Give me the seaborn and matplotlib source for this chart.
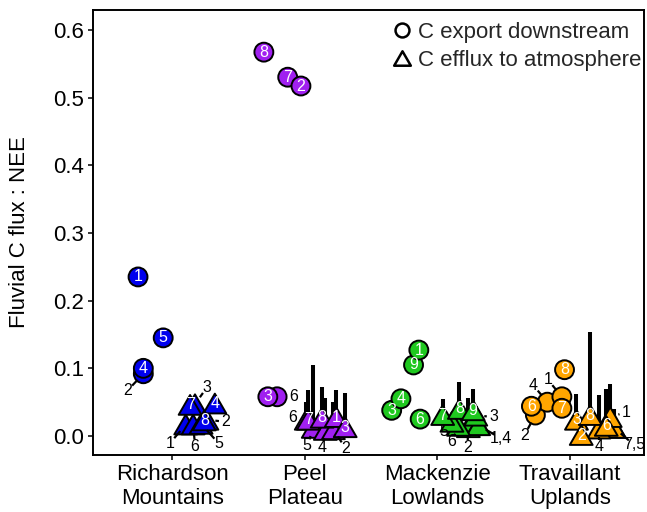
import numpy as np
import pandas as pd
import matplotlib
matplotlib.use("Agg")
import matplotlib.pyplot as plt
import seaborn as sns
from matplotlib.path import Path
from matplotlib.markers import MarkerStyle
from matplotlib.lines import Line2D

# ---------------- data ----------------
regions = ["Richardson\nMountains", "Peel\nPlateau", "Mackenzie\nLowlands", "Travaillant\nUplands"]
region_colors = ["#0000EE", "#A020F0", "#1FC81F", "#FFA500"]

# C export downstream (circles)
exp_region = [0, 0, 0, 0,
              1, 1, 1, 1, 1,
              2, 2, 2, 2, 2,
              3, 3, 3, 3, 3, 3]
exp_site = ["2", "4", "5", "1",
            "8", "7", "2", "6", "3",
            "3", "4", "6", "9", "1",
            "2", "4", "1", "6", "7", "8"]
exp_value = [0.092, 0.100, 0.145, 0.235,
             0.567, 0.530, 0.517, 0.058, 0.058,
             0.038, 0.055, 0.025, 0.105, 0.127,
             0.031, 0.050, 0.058, 0.044, 0.041, 0.098]

# C efflux to atmosphere (triangles) with upper bound
eff_region = [0] * 8 + [1] * 8 + [2] * 9 + [3] * 8
eff_site = ["1", "6", "5", "2", "3", "7", "4", "8",
            "6", "5", "4", "2", "7", "8", "1", "3",
            "2", "1", "4", "6", "5", "3", "7", "8", "9",
            "7", "5", "1", "4", "3", "8", "2", "6"]
eff_text = ["1", "6", "5", "2", "3", "7", "4", "8",
            "6", "5", "4", "2", "7", "8", "1", "3",
            "2", "1,4", "", "6", "5", "3", "7", "8", "9",
            "7,5", "", "1", "4", "3", "8", "2", "6"]
eff_value = [0.017, 0.017, 0.018, 0.024, 0.047, 0.046, 0.048, 0.023,
             0.024, 0.012, 0.009, 0.010, 0.024, 0.027, 0.028, 0.013,
             0.013, 0.016, 0.016, 0.015, 0.021, 0.030, 0.031, 0.040, 0.038,
             0.012, 0.012, 0.028, 0.011, 0.024, 0.031, 0.0015, 0.015]
eff_upper = [0.017, 0.017, 0.018, 0.024, 0.047, 0.046, 0.048, 0.023,
             0.050, 0.105, 0.056, 0.050, 0.068, 0.072, 0.068, 0.064,
             0.056, 0.030, 0.030, 0.035, 0.030, 0.045, 0.055, 0.080, 0.069,
             0.040, 0.040, 0.077, 0.061, 0.062, 0.154, 0.0015, 0.069]

# ---------------- layout (jitter and label placement) ----------------
exp_dx = [-0.22, -0.22, -0.07, -0.26,
          -0.31, -0.13, -0.03, -0.21, -0.28,
          -0.345, -0.275, -0.13, -0.18, -0.14,
          -0.26, -0.17, -0.06, -0.29, -0.06, -0.04]
eff_dx = [0.10, 0.156, 0.216, 0.26, 0.17, 0.133, 0.32, 0.24,
          0.01, 0.063, 0.154, 0.215, 0.026, 0.13, 0.236, 0.304,
          0.234, 0.31, 0.31, 0.16, 0.11, 0.29, 0.04, 0.166, 0.27,
          0.335, 0.335, 0.305, 0.22, 0.05, 0.154, 0.086, 0.275]
# label offsets in pixels (None = label drawn inside the marker)
exp_lab = [(-16, -17), None, None, None,
           None, None, None, (17, 0), None,
           None, None, None, None, None,
           (-11, -20), (-14, 17), (-14, 17), None, None, None]
eff_lab = [(-16, -19), (2, -22), (18, -20), (19, -2), (12, 17), None, None, None,
           (-14, 2), (-6, -18), (-3, -18), (12, -19), None, None, None, None,
           (-1, -20), (22, -13), None, (-7, -16), (-8, -10), (18, -1), None, None, None,
           (20, -17), None, (16, 5), (0, -18), None, None, None, None]

# ---------------- figure ----------------
sns.set_theme(style="white")
plt.rcParams["font.family"] = ["Liberation Sans", "DejaVu Sans"]

fig = plt.figure(figsize=(6.47, 5.12), dpi=100)
ax = fig.add_axes([93 / 647, 1 - 455 / 512, (644 - 93) / 647, (455 - 9.5) / 512])
ax.set_xlim(-0.6, 3.56)
ax.set_ylim(-0.028, 0.630)

pal = dict(zip(regions, region_colors))

df_exp = pd.DataFrame({
    "x": np.array(exp_region) + np.array(exp_dx),
    "value": exp_value,
    "region": [regions[i] for i in exp_region],
})
df_eff = pd.DataFrame({
    "x": np.array(eff_region) + np.array(eff_dx),
    "value": eff_value,
    "upper": eff_upper,
    "region": [regions[i] for i in eff_region],
})

# upper bars for efflux
bars = df_eff[df_eff["upper"] > df_eff["value"]]
ax.vlines(bars["x"], bars["value"], bars["upper"], colors="black",
          linewidth=2.9, zorder=1, capstyle="butt")

tri_path = Path([(-1, -0.866), (1, -0.866), (0, 0.866), (-1, -0.866)],
                [Path.MOVETO, Path.LINETO, Path.LINETO, Path.CLOSEPOLY])
tri_marker = MarkerStyle(tri_path)

sns.scatterplot(data=df_exp, x="x", y="value", hue="region", palette=pal,
                marker="o", s=185, edgecolor="black", linewidth=1.4,
                legend=False, zorder=3, ax=ax)
sns.scatterplot(data=df_eff, x="x", y="value", hue="region", palette=pal,
                marker=tri_marker, s=270, edgecolor="black", linewidth=1.4,
                legend=False, zorder=3, ax=ax)

lab_fs = 11.5
inv = ax.transData.inverted()


def put_labels(xs, ys, texts, offs):
    for x, y, t, o in zip(xs, ys, texts, offs):
        if t == "":
            continue
        if o is None:
            ax.text(x, y, t, color="white", ha="center", va="center",
                    fontsize=lab_fs, zorder=6)
        else:
            ax.annotate(t, xy=(x, y), xytext=o, textcoords="offset pixels",
                        ha="center", va="center", fontsize=lab_fs, color="black",
                        zorder=5)
            # short leader segment between the marker and its label
            p = ax.transData.transform((x, y))
            v = np.array(o, dtype=float)
            L = np.hypot(*v)
            u = v / L
            r1, r2 = 8.5, L - 7.0
            if r2 > r1:
                a = inv.transform(p + u * r1)
                b = inv.transform(p + u * r2)
                ax.plot([a[0], b[0]], [a[1], b[1]], color="black", lw=1.6,
                        solid_capstyle="butt", zorder=4)


put_labels(df_exp["x"], df_exp["value"], exp_site, exp_lab)
put_labels(df_eff["x"], df_eff["value"], eff_text, eff_lab)

# axes styling
ax.set_xlim(-0.6, 3.56)
ax.set_ylim(-0.028, 0.630)
ax.set_xticks(range(len(regions)))
ax.set_xticklabels(regions, fontsize=16, color="black")
ax.set_yticks(np.arange(0, 0.61, 0.1))
ax.set_yticklabels([f"{v:.1f}" for v in np.arange(0, 0.61, 0.1)], fontsize=16, color="black")
ax.set_xlabel("")
ax.set_ylabel("Fluvial C flux : NEE", fontsize=16, color="black")
ax.yaxis.set_label_coords(-0.114, 0.5)
for sp in ax.spines.values():
    sp.set_visible(True)
    sp.set_color("black")
    sp.set_linewidth(1.4)
ax.tick_params(axis="both", which="major", direction="out", length=3.8, width=1.1,
               color="black", pad=2.5, bottom=True, left=True)

handles = [
    Line2D([], [], linestyle="none", marker="o", markersize=10,
           markerfacecolor="none", markeredgecolor="black", markeredgewidth=1.8),
    Line2D([], [], linestyle="none", marker=tri_marker, markersize=12,
           markerfacecolor="none", markeredgecolor="black", markeredgewidth=1.8),
]
ax.legend(handles, ["C export downstream", "C efflux to atmosphere"],
          loc="upper right", bbox_to_anchor=(1.018, 1.0), frameon=False,
          fontsize=16, handlelength=0.8, handletextpad=0.35, borderaxespad=0.35,
          labelspacing=0.32, borderpad=0.2)

fig.savefig("out.png", dpi=100)
